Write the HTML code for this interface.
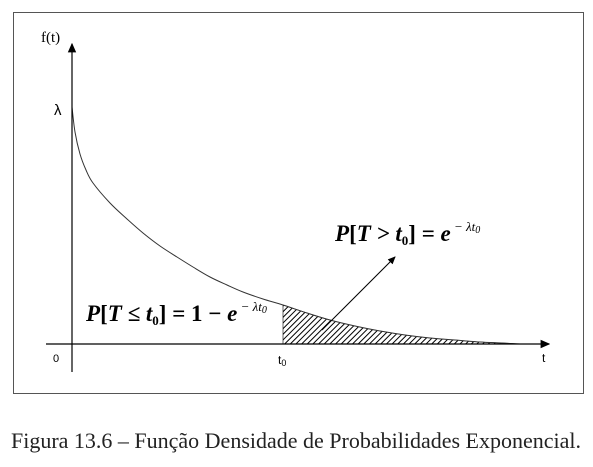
<!DOCTYPE html>
<html><head><meta charset="utf-8"><style>
body{margin:0;background:#fff;width:593px;height:462px;overflow:hidden}
.sans{font-family:"Liberation Sans",sans-serif}
.serif{font-family:"Liberation Serif",serif}
</style></head><body>
<svg width="593" height="462">
<defs>
<pattern id="hatch" width="4" height="4" patternUnits="userSpaceOnUse" patternTransform="rotate(45)">
<rect width="4" height="4" fill="#fff"/><line x1="0" y1="0" x2="0" y2="4" stroke="#000" stroke-width="2"/>
</pattern>
<marker id="ah" markerWidth="8" markerHeight="8" refX="7" refY="4" orient="auto"><path d="M0,0.5 L8,4 L0,7.5Z" fill="#000"/></marker>
</defs>
<rect x="13.5" y="12.5" width="570" height="381" fill="none" stroke="#555" stroke-width="1"/>
<g id="plot"></g>
<text class="serif" x="41" y="42" font-size="15">f(t)</text>
<text class="sans" x="54" y="115" font-size="15">λ</text>
<text class="sans" x="53" y="362" font-size="11">0</text>
<text class="sans" x="278" y="364" font-size="12">t<tspan font-size="9" dy="2">0</tspan></text>
<text class="sans" x="542" y="362" font-size="12">t</text>
<text class="serif" x="335" y="241" font-size="23" font-weight="bold" font-style="italic">P<tspan font-style="normal">[</tspan>T &gt; t<tspan font-size="13" dy="4" font-style="normal">0</tspan><tspan dy="-4" font-style="normal">] = </tspan>e<tspan font-size="13" dy="-10" font-weight="normal"> − λt<tspan font-size="10" dy="2">0</tspan></tspan></text>
<text class="serif" x="86" y="321" font-size="23" font-weight="bold" font-style="italic">P<tspan font-style="normal">[</tspan>T ≤ t<tspan font-size="13" dy="4" font-style="normal">0</tspan><tspan dy="-4" font-style="normal">] = 1 − </tspan>e<tspan font-size="13" dy="-10" font-weight="normal"> − λt<tspan font-size="10" dy="2">0</tspan></tspan></text>
<text class="serif" x="296" y="448" font-size="22" fill="#222" text-anchor="middle">Figura 13.6 – Função Densidade de Probabilidades Exponencial.</text>
</svg>
<script>
const tValues=[0,3,8,14,21,38,55,71,88,105,121,138,155,171,191,211,235,258,283,308,333,358,383,408,430,448];
const densityValues=[237,212,190,174,161,141,125,111,98,87,77,67,59,52,45,39,31,24,18,13,9,6,4,2,1,0];
const t0Value=211;
const X0=72,Y0=344;
const xs=t=>X0+t, ys=v=>Y0-v;
const g=document.getElementById('plot');
const NS='http://www.w3.org/2000/svg';
function mk(tag,attrs){const e=document.createElementNS(NS,tag);for(const k in attrs)e.setAttribute(k,attrs[k]);g.appendChild(e);return e;}
function smooth(P){let d='M'+P[0][0]+','+P[0][1];for(let i=0;i<P.length-1;i++){const p0=P[i-1]||P[i],p1=P[i],p2=P[i+1],p3=P[i+2]||p2;
d+=' C'+(p1[0]+(p2[0]-p0[0])/6)+','+(p1[1]+(p2[1]-p0[1])/6)+' '+(p2[0]-(p3[0]-p1[0])/6)+','+(p2[1]-(p3[1]-p1[1])/6)+' '+p2[0]+','+p2[1];}return d;}
const allPts=tValues.map((t,i)=>[xs(t),ys(densityValues[i])]);
const tailPts=allPts.filter((p,i)=>tValues[i]>=t0Value);
const area=mk('path',{d:'M'+xs(t0Value)+','+Y0+' L'+smooth(tailPts).slice(1)+' L'+tailPts[tailPts.length-1][0]+','+Y0+'Z',fill:'url(#hatch)',stroke:'#000','stroke-width':'0.6'});


const curve=mk('path',{d:smooth(allPts),fill:'none',stroke:'#333','stroke-width':'1'});


const xa=mk('line',{x1:46,y1:Y0,x2:549,y2:Y0,stroke:'#000','stroke-width':'1.2','marker-end':'url(#ah)'});


const ya=mk('line',{x1:X0,y1:372,x2:X0,y2:44,stroke:'#000','stroke-width':'1.2','marker-end':'url(#ah)'});


const ar=mk('line',{x1:322,y1:330,x2:395,y2:257,stroke:'#000','stroke-width':'1','marker-end':'url(#ah)'});


</script>
</body></html>
